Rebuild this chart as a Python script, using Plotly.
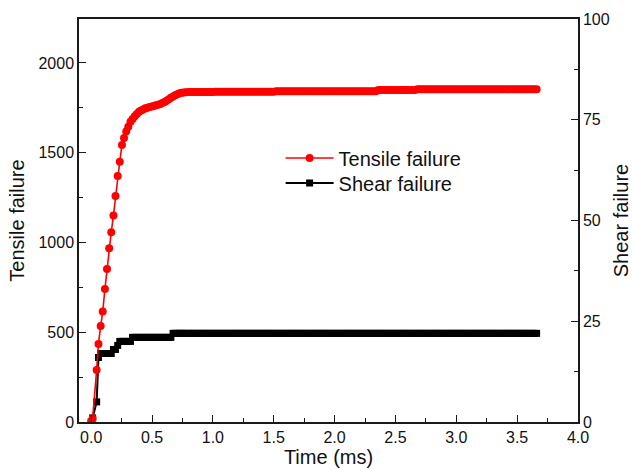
import plotly.graph_objects as go

# Time (ms) sampled by the simulation
time_ms = [
    0.000, 0.012, 0.045, 0.060, 0.078, 0.095, 0.113, 0.130, 0.148, 0.165,
    0.183, 0.200, 0.218, 0.235, 0.253, 0.270, 0.288, 0.305, 0.323, 0.340,
    0.358, 0.375, 0.393, 0.410, 0.428, 0.445, 0.463, 0.480, 0.498, 0.515,
    0.533, 0.550, 0.568, 0.585, 0.603, 0.620, 0.638, 0.655, 0.673, 0.690,
    0.708, 0.725, 0.743, 0.760, 0.778,
    0.80, 0.82, 0.84, 0.86, 0.88, 0.90, 0.92, 0.94, 0.96, 0.98,
    1.00, 1.02, 1.04, 1.06, 1.08, 1.10, 1.12, 1.14, 1.16, 1.18,
    1.20, 1.22, 1.24, 1.26, 1.28, 1.30, 1.32, 1.34, 1.36, 1.38,
    1.40, 1.42, 1.44, 1.46, 1.48, 1.50, 1.52, 1.54, 1.56, 1.58,
    1.60, 1.62, 1.64, 1.66, 1.68, 1.70, 1.72, 1.74, 1.76, 1.78,
    1.80, 1.82, 1.84, 1.86, 1.88, 1.90, 1.92, 1.94, 1.96, 1.98,
    2.00, 2.02, 2.04, 2.06, 2.08, 2.10, 2.12, 2.14, 2.16, 2.18,
    2.20, 2.22, 2.24, 2.26, 2.28, 2.30, 2.32, 2.34, 2.36, 2.38,
    2.40, 2.42, 2.44, 2.46, 2.48, 2.50, 2.52, 2.54, 2.56, 2.58,
    2.60, 2.62, 2.64, 2.66, 2.68, 2.70, 2.72, 2.74, 2.76, 2.78,
    2.80, 2.82, 2.84, 2.86, 2.88, 2.90, 2.92, 2.94, 2.96, 2.98,
    3.00, 3.02, 3.04, 3.06, 3.08, 3.10, 3.12, 3.14, 3.16, 3.18,
    3.20, 3.22, 3.24, 3.26, 3.28, 3.30, 3.32, 3.34, 3.36, 3.38,
    3.40, 3.42, 3.44, 3.46, 3.48, 3.50, 3.52, 3.54, 3.56, 3.58,
    3.60, 3.62, 3.64, 3.66,
]

# Cumulative number of tensile failures
tensile = [
    0, 20, 290, 435, 535, 615, 741, 853, 968, 1057,
    1150, 1259, 1371, 1450, 1543, 1582, 1618, 1645, 1673, 1688,
    1703, 1716, 1729, 1735, 1741, 1748, 1751, 1755, 1758, 1761,
    1764, 1768, 1772, 1777, 1783, 1790, 1798, 1806, 1813, 1820,
    1826, 1831, 1834, 1836, 1837,
    1838, 1838, 1838, 1838, 1838, 1838, 1838, 1838, 1838, 1838,
    1838, 1840, 1840, 1840, 1840, 1840, 1840, 1840, 1840, 1840,
    1840, 1840, 1840, 1840, 1840, 1840, 1840, 1840, 1840, 1840,
    1840, 1840, 1840, 1840, 1840, 1840, 1843, 1843, 1843, 1843,
    1843, 1843, 1843, 1843, 1843, 1843, 1843, 1843, 1843, 1843,
    1843, 1843, 1843, 1843, 1843, 1843, 1843, 1843, 1843, 1843,
    1843, 1843, 1843, 1843, 1843, 1843, 1843, 1843, 1843, 1843,
    1843, 1843, 1843, 1843, 1843, 1843, 1843, 1843, 1850, 1850,
    1850, 1850, 1850, 1850, 1850, 1850, 1850, 1850, 1850, 1850,
    1850, 1850, 1850, 1850, 1853, 1853, 1853, 1853, 1853, 1853,
    1853, 1853, 1853, 1853, 1853, 1853, 1853, 1853, 1853, 1853,
    1853, 1853, 1853, 1853, 1853, 1853, 1853, 1853, 1853, 1853,
    1853, 1853, 1853, 1853, 1853, 1853, 1853, 1853, 1853, 1853,
    1853, 1853, 1853, 1853, 1853, 1853, 1853, 1853, 1853, 1853,
    1853, 1853, 1853, 1853,
]

# Cumulative number of shear failures
shear = [
    0, 1, 5, 16, 17, 17, 17, 17, 17, 17,
    18, 18, 19, 20, 20, 20, 20, 20, 20, 21,
    21, 21, 21, 21, 21, 21, 21, 21, 21, 21,
    21, 21, 21, 21, 21, 21, 21, 21, 22, 22,
    22, 22, 22, 22, 22,
    22, 22, 22, 22, 22, 22, 22, 22, 22, 22,
    22, 22, 22, 22, 22, 22, 22, 22, 22, 22,
    22, 22, 22, 22, 22, 22, 22, 22, 22, 22,
    22, 22, 22, 22, 22, 22, 22, 22, 22, 22,
    22, 22, 22, 22, 22, 22, 22, 22, 22, 22,
    22, 22, 22, 22, 22, 22, 22, 22, 22, 22,
    22, 22, 22, 22, 22, 22, 22, 22, 22, 22,
    22, 22, 22, 22, 22, 22, 22, 22, 22, 22,
    22, 22, 22, 22, 22, 22, 22, 22, 22, 22,
    22, 22, 22, 22, 22, 22, 22, 22, 22, 22,
    22, 22, 22, 22, 22, 22, 22, 22, 22, 22,
    22, 22, 22, 22, 22, 22, 22, 22, 22, 22,
    22, 22, 22, 22, 22, 22, 22, 22, 22, 22,
    22, 22, 22, 22, 22, 22, 22, 22, 22, 22,
    22, 22, 22, 22,
]

x_ticks = [0.0, 0.5, 1.0, 1.5, 2.0, 2.5, 3.0, 3.5, 4.0]
left_ticks = [0, 500, 1000, 1500, 2000]
right_ticks = [0, 25, 50, 75, 100]

FONT = "Arial, 'Liberation Sans', sans-serif"
AXIS_COLOR = "#1a1a1a"

fig = go.Figure()

# Shear failures on the right-hand axis
fig.add_trace(go.Scatter(
    x=time_ms, y=shear, name="Shear failure", yaxis="y",
    mode="lines+markers",
    line=dict(color="black", width=2),
    marker=dict(symbol="square", size=7, color="black"),
    legend="legend2",
))

# Tensile failures on the left-hand axis
fig.add_trace(go.Scatter(
    x=time_ms, y=tensile, name="Tensile failure", yaxis="y2",
    mode="lines+markers",
    line=dict(color="#ff0000", width=1.6),
    marker=dict(symbol="circle", size=8, color="#ff0000"),
    legend="legend",
))

common_axis = dict(
    showline=True, linecolor=AXIS_COLOR, linewidth=1.5,
    ticks="inside", ticklen=7, tickwidth=1.3, tickcolor=AXIS_COLOR,
    showgrid=False, zeroline=False, automargin=False,
    tickfont=dict(family=FONT, size=16, color="#111"),
)

legend_style = dict(
    xanchor="left", yanchor="middle",
    bgcolor="rgba(0,0,0,0)", borderwidth=0,
    font=dict(family=FONT, size=20, color="#111"),
    itemwidth=48,
)

fig.update_layout(
    width=632, height=470,
    margin=dict(l=79, r=54, t=19, b=48),
    paper_bgcolor="white", plot_bgcolor="white",
    font=dict(family=FONT, color="#111"),
    showlegend=True,
    legend=dict(legend_style, x=0.404, y=0.655),
    legend2=dict(legend_style, x=0.404, y=0.593),
    xaxis=dict(
        common_axis, range=[-0.1, 4.0],
        tickvals=x_ticks, ticktext=[f"{v:.1f}" for v in x_ticks],
        mirror=True,
        minor=dict(ticks="inside", ticklen=4, dtick=0.25, tick0=0,
                   tickcolor=AXIS_COLOR, tickwidth=1.2),
        title=dict(text="Time (ms)", font=dict(family=FONT, size=20), standoff=4),
    ),
    yaxis=dict(
        common_axis, range=[0, 100], side="right",
        tickvals=right_ticks,
        minor=dict(ticks="inside", ticklen=4, dtick=12.5, tick0=0,
                   tickcolor=AXIS_COLOR, tickwidth=1.2),
        title=dict(text="Shear failure", font=dict(family=FONT, size=20), standoff=8),
    ),
    yaxis2=dict(
        common_axis, range=[0, 2245], side="left", overlaying="y",
        tickvals=left_ticks,
        minor=dict(ticks="inside", ticklen=4, dtick=250, tick0=0,
                   tickcolor=AXIS_COLOR, tickwidth=1.2),
        title=dict(text="Tensile failure", font=dict(family=FONT, size=20), standoff=8),
    ),
)

fig.write_html("out.html")
